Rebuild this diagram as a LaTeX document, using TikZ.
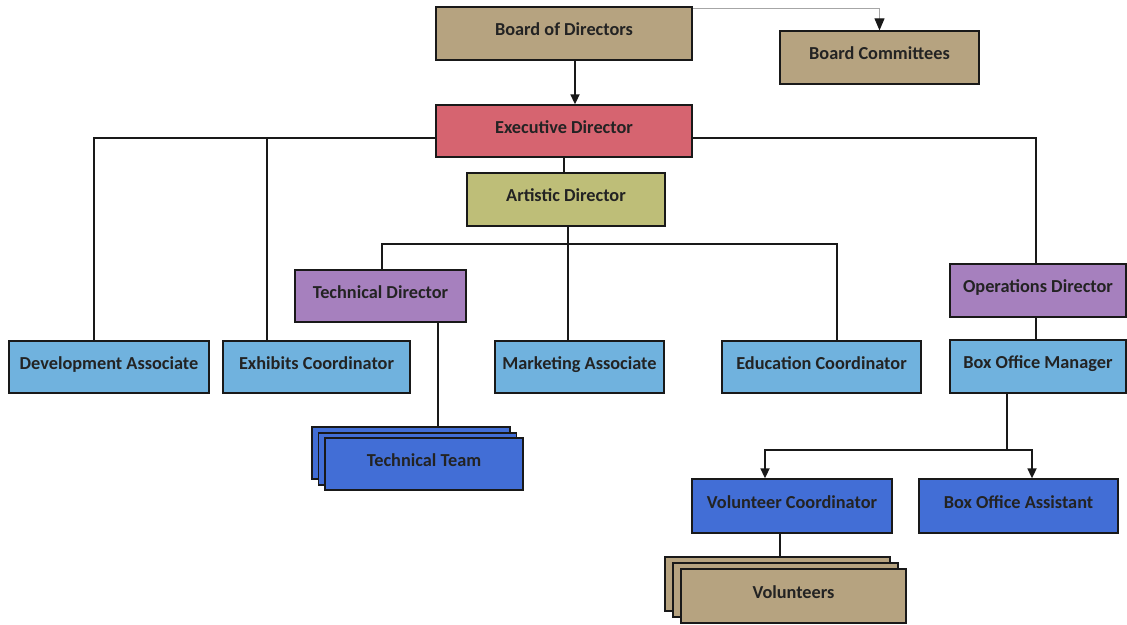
\documentclass[tikz,border=0pt]{standalone}
\usepackage{fontspec}
\setmainfont{Carlito}
\usetikzlibrary{arrows.meta}
\definecolor{tanc}{RGB}{182,163,128}
\definecolor{execc}{RGB}{214,100,112}
\definecolor{artc}{RGB}{190,190,120}
\definecolor{purpc}{RGB}{166,128,190}
\definecolor{lblue}{RGB}{112,178,222}
\definecolor{dblue}{RGB}{66,110,214}
\definecolor{txtc}{RGB}{35,35,35}
\definecolor{linec}{RGB}{25,25,25}
\tikzset{
  box/.style={draw=linec, line width=1.3pt, inner sep=0pt, minimum height=52pt,
    text height=13pt, text depth=9pt,
    font=\fontsize{18.3}{20}\selectfont\bfseries, text=txtc},
  conn/.style={draw=linec, line width=1.7pt},
  arr/.style={conn, -{Triangle[length=10pt,width=9pt]}},
  thinarr/.style={draw=gray!70, line width=1pt, -{Triangle[length=12pt,width=10pt,color=linec]}}
}
\begin{document}
\begin{tikzpicture}[x=1pt,y=-1pt]
\useasboundingbox (0,0) rectangle (1127,624);
% nodes
\node[box, fill=tanc, minimum width=256pt, minimum height=53pt] (board) at (564,33.5) {Board of Directors};
\node[box, fill=tanc, minimum width=199pt, minimum height=53pt] (comm) at (879.5,57.5) {Board Committees};
\node[box, fill=execc, minimum width=256pt] (exec) at (564,131) {Executive Director};
\node[box, fill=artc, minimum width=198pt, minimum height=53pt] (art) at (566,199.5) {Artistic Director};
\node[box, fill=purpc, minimum width=171pt] (td) at (380.5,296) {Technical Director};
\node[box, fill=lblue, minimum width=200pt] (dev) at (109,367) {Development Associate};
\node[box, fill=lblue, minimum width=187pt] (exh) at (316.5,367) {Exhibits Coordinator};
\node[box, fill=lblue, minimum width=169pt] (mkt) at (579.5,367) {Marketing Associate};
\node[box, fill=lblue, minimum width=199pt] (edu) at (821.5,367) {Education Coordinator};
\node[box, fill=purpc, minimum width=176pt, minimum height=53pt] (ops) at (1038,290.5) {Operations Director};
\node[box, fill=lblue, minimum width=176pt, minimum height=53pt] (bom) at (1038,366.5) {Box Office Manager};
\node[box, fill=dblue, minimum width=200pt, minimum height=54pt] (vc) at (792,506) {Volunteer Coordinator};
\node[box, fill=dblue, minimum width=199pt, minimum height=54pt] (boa) at (1018.5,506) {Box Office Assistant};
% technical team stack
\node[box, fill=dblue, minimum width=198pt] (ttA) at (411,453) {};
\node[box, fill=dblue, minimum width=198pt] (ttB) at (417.5,459) {};
\node[box, fill=dblue, minimum width=198pt] (tt) at (424,464) {Technical Team};
% volunteers stack
\node[box, fill=tanc, minimum width=225pt, minimum height=54pt] (volA) at (777.5,584) {};
\node[box, fill=tanc, minimum width=225pt, minimum height=54pt] (volB) at (785.5,590) {};
\node[box, fill=tanc, minimum width=225pt, minimum height=54pt] (vol) at (793.5,596) {Volunteers};
% connectors
\draw[thinarr] ([yshift=-2pt]board.north east) -| (comm.north);
\draw[arr] ([xshift=11pt]board.south) -- ([xshift=11pt]exec.north);
\draw[conn] ([yshift=-7pt]exec.west) -| ([xshift=-15pt]dev.north);
\draw[conn] ([yshift=-7pt]exec.west) -| ([xshift=-49.5pt]exh.north);
\draw[conn] ([yshift=-7pt]exec.east) -| ([xshift=-2pt]ops.north);
\draw[conn] (exec.south) -- (exec.south |- art.north);
\draw[conn] ([xshift=2pt]art.south) -- ([xshift=2pt]art.south |- mkt.north);
\draw[conn] ([xshift=2pt,yshift=-17pt]art.south) -| ([xshift=1.5pt]td.north);
\draw[conn] ([xshift=2pt,yshift=-17pt]art.south) -| ([xshift=15.5pt]edu.north);
\draw[conn] ([xshift=57.5pt]td.south) -- ([xshift=57.5pt]td.south |- ttA.north);
\draw[conn] ([xshift=-2pt]ops.south) -- ([xshift=-2pt]bom.north);
\draw[conn] ([xshift=-31pt]bom.south) -- ([xshift=-31pt,yshift=-56pt]bom.south);
\draw[arr] ([xshift=-31pt,yshift=-56pt]bom.south) -| ([xshift=-27pt]vc.north);
\draw[arr] ([xshift=-31pt,yshift=-56pt]bom.south) -| ([xshift=13.5pt]boa.north);
\draw[conn] ([xshift=-12pt]vc.south) -- ([xshift=-12pt]vc.south |- volA.north);
\end{tikzpicture}
\end{document}
